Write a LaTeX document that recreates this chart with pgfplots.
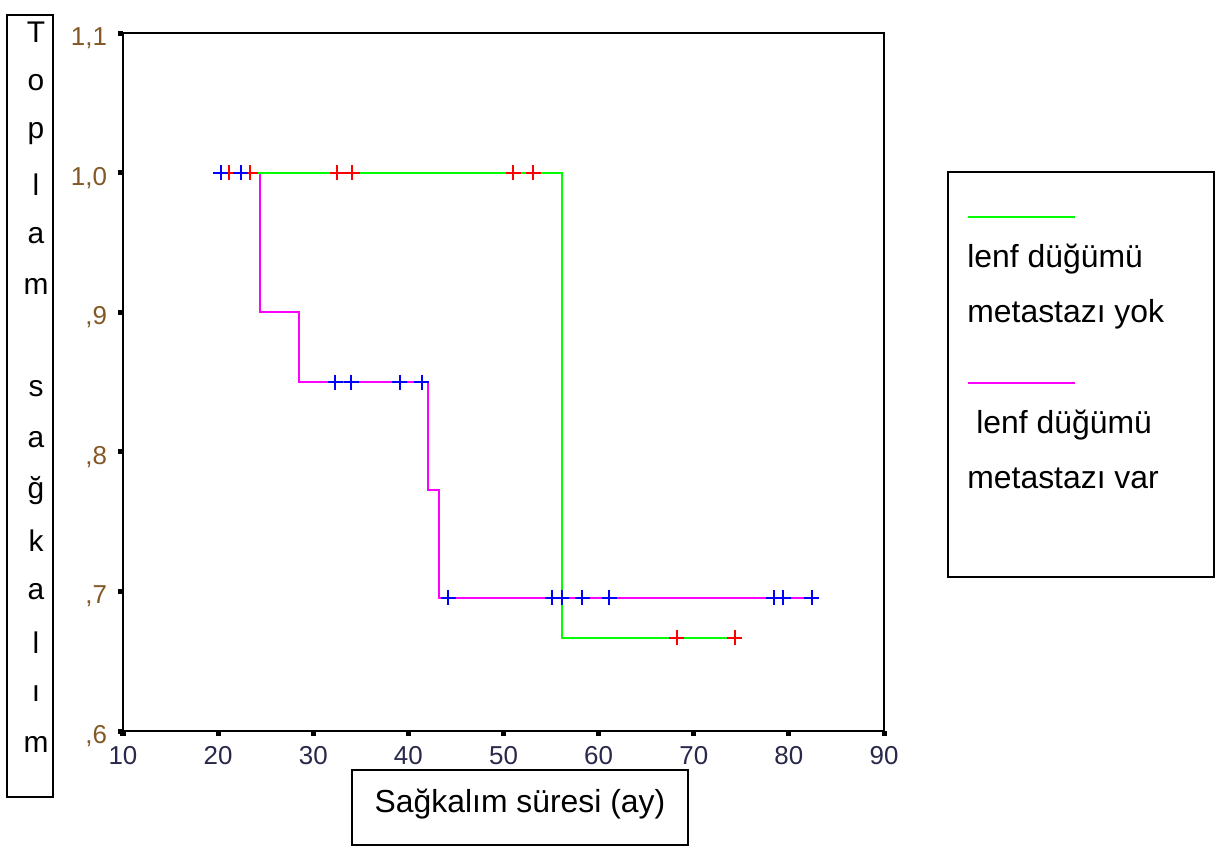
\documentclass[border=0pt]{standalone}
\usepackage{fontspec}
\setmainfont{Liberation Sans}
\usepackage{pgfplots}
\pgfplotsset{compat=1.18}

\definecolor{kmgreen}{RGB}{0,255,0}
\definecolor{kmmag}{RGB}{255,0,255}
\definecolor{kmred}{RGB}{255,0,0}
\definecolor{kmblue}{RGB}{0,0,255}
\definecolor{ylab}{RGB}{130,88,38}
\definecolor{xlab}{RGB}{40,40,75}

\begin{document}
\begin{tikzpicture}
% pixel grid of the reference: 1 px = 0.5bp, origin at the axis corner
\begin{scope}[x=0.5bp,y=-0.5bp,shift={(-123,-731)}]
  \useasboundingbox (0,0) rectangle (1232,848);
\end{scope}

\begin{axis}[
  at={(0,0)}, anchor=south west,
  width=380.5bp, height=348.75bp, scale only axis,
  xmin=10, xmax=90, ymin=0.6, ymax=1.1,
  xtick={10,20,...,90}, xticklabels={10,20,30,40,50,60,70,80,90},
  ytick={0.6,0.7,0.8,0.9,1.0,1.1},
  yticklabels={{,6},{,7},{,8},{,9},{1,0},{1,1}},
  /pgf/number format/assume math mode=true,
  xtick pos=bottom, ytick pos=left,
  tick align=outside, major tick length=2.5bp,
  tick style={line width=2.5bp, black},
  axis line style={line width=1bp},
  xticklabel style={font=\fontsize{13}{14}\selectfont, text=xlab, yshift=-1.5bp},
  yticklabel style={font=\fontsize{13}{14}\selectfont, text=ylab, xshift=-2bp, yshift=-2.5bp},
  clip=false]
% lenf dugumu metastazi var
\addplot[const plot, kmmag, line width=1bp] coordinates {
  (20.3,1.0)(24.4,0.9)(28.5,0.85)(42.1,0.7727)(43.2,0.6955)(82.4,0.6955)};
% lenf dugumu metastazi yok
\addplot[const plot, kmgreen, line width=1bp] coordinates {
  (21.1,1.0)(56.1,0.6667)(74.3,0.6667)};
% censored
\addplot[only marks, mark=+, mark size=3.75bp, kmred, mark options={line width=1bp}] coordinates {
  (21.1,1.0)(23.4,1.0)(32.5,1.0)(34.1,1.0)(51.0,1.0)(53.1,1.0)(68.2,0.6667)(74.3,0.6667)};
\addplot[only marks, mark=+, mark size=3.75bp, kmblue, mark options={line width=1bp}] coordinates {
  (20.3,1.0)(22.4,1.0)(32.3,0.85)(34.0,0.85)(39.1,0.85)(41.4,0.85)
  (44.2,0.6955)(55.1,0.6955)(56.1,0.6955)(58.3,0.6955)(61.1,0.6955)
  (78.4,0.6955)(79.4,0.6955)(82.4,0.6955)};
\end{axis}

\begin{scope}[x=0.5bp,y=-0.5bp,shift={(-123,-731)}]
  % y label box
  \draw[line width=0.75bp] (7,15) rectangle (53,797);
  \foreach \c [count=\i from 0] in {T,o,p,l,a,m,{},s,a,ğ,k,a,l,ı,m}
    \node[font=\fontsize{15}{16}\selectfont, inner sep=0] at (36,32+50.9*\i) {\c};
  % x label box
  \draw[line width=0.75bp] (352,770) rectangle (688,845);
  \node[font=\fontsize{16}{18}\selectfont, anchor=base] at (520,812) {Sağkalım süresi (ay)};
  % legend box
  \draw[line width=0.75bp] (948,172) rectangle (1214,577);
  \draw[kmgreen, line width=1.2bp] (968,217) -- (1075,217);
  \node[font=\fontsize{16}{18}\selectfont, anchor=base west, inner sep=0] at (967,268) {lenf düğümü};
  \node[font=\fontsize{16}{18}\selectfont, anchor=base west, inner sep=0] at (967,323) {metastazı yok};
  \draw[kmmag, line width=1.2bp] (968,383) -- (1075,383);
  \node[font=\fontsize{16}{18}\selectfont, anchor=base west, inner sep=0] at (976,433) {lenf düğümü};
  \node[font=\fontsize{16}{18}\selectfont, anchor=base west, inner sep=0] at (967,488) {metastazı var};
\end{scope}
\end{tikzpicture}
\end{document}
